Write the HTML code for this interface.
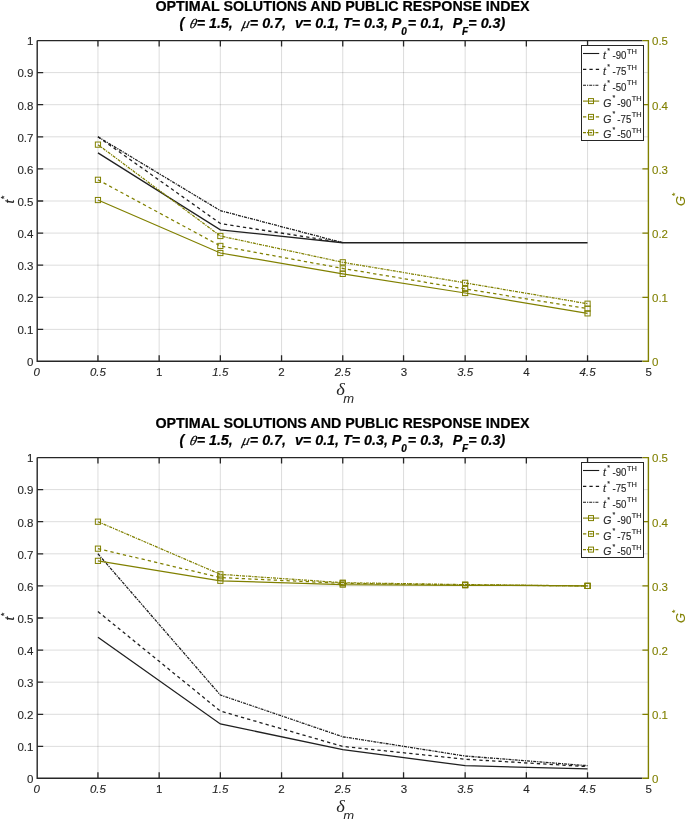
<!DOCTYPE html>
<html><head><meta charset="utf-8"><style>
html,body{margin:0;padding:0;background:#fff;overflow:hidden;width:685px;height:819px;}
svg{display:block;will-change:transform;font-family:"Liberation Sans",sans-serif;}
</style></head><body>
<svg width="685" height="819" viewBox="0 0 685 819">
<rect width="685" height="819" fill="#fff"/>
<path d="M97.95 40.60V361.30 M159.15 40.60V361.30 M220.35 40.60V361.30 M281.55 40.60V361.30 M342.75 40.60V361.30 M403.55 40.60V361.30 M465.15 40.60V361.30 M526.35 40.60V361.30 M587.55 40.60V361.30" stroke="#262626" stroke-opacity="0.155" stroke-width="1.0" fill="none"/>
<path d="M37.20 329.40H648.40 M37.20 297.30H648.40 M37.20 265.20H648.40 M37.20 233.10H648.40 M37.20 201.00H648.40 M37.20 168.90H648.40 M37.20 136.80H648.40 M37.20 104.70H648.40 M37.20 72.60H648.40" stroke="#262626" stroke-opacity="0.155" stroke-width="1.0" fill="none"/>
<path d="M97.95 361.30v-6.0 M97.95 40.60v6.0 M159.15 361.30v-6.0 M159.15 40.60v6.0 M220.35 361.30v-6.0 M220.35 40.60v6.0 M281.55 361.30v-6.0 M281.55 40.60v6.0 M342.75 361.30v-6.0 M342.75 40.60v6.0 M403.55 361.30v-6.0 M403.55 40.60v6.0 M465.15 361.30v-6.0 M465.15 40.60v6.0 M526.35 361.30v-6.0 M526.35 40.60v6.0 M587.55 361.30v-6.0 M587.55 40.60v6.0 M37.20 329.40h6.0 M37.20 297.30h6.0 M37.20 265.20h6.0 M37.20 233.10h6.0 M37.20 201.00h6.0 M37.20 168.90h6.0 M37.20 136.80h6.0 M37.20 104.70h6.0 M37.20 72.60h6.0" stroke="#262626" stroke-width="1.3" fill="none"/>
<path d="M648.40 297.30h-6.0 M648.40 233.10h-6.0 M648.40 168.90h-6.0 M648.40 104.70h-6.0" stroke="#808000" stroke-width="1.3" fill="none"/>
<polyline points="97.95,152.85 220.35,229.89 342.75,242.73 465.15,242.73 587.55,242.73" stroke="#202020" stroke-width="1.3" fill="none"/>
<polyline points="97.95,136.80 220.35,223.47 342.75,242.73" stroke="#202020" stroke-width="1.3" fill="none" stroke-dasharray="3.3 3.1"/>
<polyline points="97.95,136.80 220.35,210.63 342.75,242.73" stroke="#202020" stroke-width="1.3" fill="none" stroke-dasharray="3 1 1.2 1"/>
<polyline points="97.95,200.04 220.35,253.00 342.75,273.87 465.15,293.00 587.55,313.35" stroke="#808000" stroke-width="1.25" fill="none"/>
<rect x="95.35" y="197.44" width="5.2" height="5.2" stroke="#808000" stroke-width="1" fill="none"/>
<rect x="217.75" y="250.40" width="5.2" height="5.2" stroke="#808000" stroke-width="1" fill="none"/>
<rect x="340.15" y="271.27" width="5.2" height="5.2" stroke="#808000" stroke-width="1" fill="none"/>
<rect x="462.55" y="290.40" width="5.2" height="5.2" stroke="#808000" stroke-width="1" fill="none"/>
<rect x="584.95" y="310.75" width="5.2" height="5.2" stroke="#808000" stroke-width="1" fill="none"/>
<polyline points="97.95,179.81 220.35,245.94 342.75,268.41 465.15,288.95 587.55,308.66" stroke="#808000" stroke-width="1.25" fill="none" stroke-dasharray="3.3 3.1"/>
<rect x="95.35" y="177.21" width="5.2" height="5.2" stroke="#808000" stroke-width="1" fill="none"/>
<rect x="217.75" y="243.34" width="5.2" height="5.2" stroke="#808000" stroke-width="1" fill="none"/>
<rect x="340.15" y="265.81" width="5.2" height="5.2" stroke="#808000" stroke-width="1" fill="none"/>
<rect x="462.55" y="286.35" width="5.2" height="5.2" stroke="#808000" stroke-width="1" fill="none"/>
<rect x="584.95" y="306.06" width="5.2" height="5.2" stroke="#808000" stroke-width="1" fill="none"/>
<polyline points="97.95,144.63 220.35,235.99 342.75,262.31 465.15,282.86 587.55,303.72" stroke="#808000" stroke-width="1.25" fill="none" stroke-dasharray="3 1 1.2 1"/>
<rect x="95.35" y="142.03" width="5.2" height="5.2" stroke="#808000" stroke-width="1" fill="none"/>
<rect x="217.75" y="233.39" width="5.2" height="5.2" stroke="#808000" stroke-width="1" fill="none"/>
<rect x="340.15" y="259.71" width="5.2" height="5.2" stroke="#808000" stroke-width="1" fill="none"/>
<rect x="462.55" y="280.25" width="5.2" height="5.2" stroke="#808000" stroke-width="1" fill="none"/>
<rect x="584.95" y="301.12" width="5.2" height="5.2" stroke="#808000" stroke-width="1" fill="none"/>
<path d="M37.20 40.60V361.30H642.40" stroke="#262626" stroke-width="1.4" fill="none"/>
<path d="M37.20 40.60H642.40" stroke="#262626" stroke-width="1.4" fill="none"/>
<path d="M642.40 40.60H648.40V361.30H642.40" stroke="#808000" stroke-width="1.4" fill="none"/>
<g font-size="11.5" fill="#262626" stroke="#262626" stroke-width="0.12"><text x="36.75" y="375.70" text-anchor="middle" font-style="italic">0</text><text x="97.95" y="375.70" text-anchor="middle" font-style="italic">0.5</text><text x="159.15" y="375.70" text-anchor="middle">1</text><text x="220.35" y="375.70" text-anchor="middle" font-style="italic">1.5</text><text x="281.55" y="375.70" text-anchor="middle">2</text><text x="342.75" y="375.70" text-anchor="middle" font-style="italic">2.5</text><text x="403.95" y="375.70" text-anchor="middle">3</text><text x="465.15" y="375.70" text-anchor="middle" font-style="italic">3.5</text><text x="526.35" y="375.70" text-anchor="middle">4</text><text x="587.55" y="375.70" text-anchor="middle" font-style="italic">4.5</text><text x="648.75" y="375.70" text-anchor="middle">5</text><text x="33.4" y="366.30" text-anchor="end">0</text><text x="33.4" y="334.20" text-anchor="end">0.1</text><text x="33.4" y="302.10" text-anchor="end">0.2</text><text x="33.4" y="270.00" text-anchor="end">0.3</text><text x="33.4" y="237.90" text-anchor="end">0.4</text><text x="33.4" y="205.80" text-anchor="end">0.5</text><text x="33.4" y="173.70" text-anchor="end">0.6</text><text x="33.4" y="141.60" text-anchor="end">0.7</text><text x="33.4" y="109.50" text-anchor="end">0.8</text><text x="33.4" y="77.40" text-anchor="end">0.9</text><text x="33.4" y="45.30" text-anchor="end">1</text></g>
<g font-size="11.5" fill="#808000" stroke="#808000" stroke-width="0.1"><text x="652" y="366.30">0</text><text x="652" y="302.10">0.1</text><text x="652" y="237.90">0.2</text><text x="652" y="173.70">0.3</text><text x="652" y="109.50">0.4</text><text x="652" y="45.30">0.5</text></g>
<g transform="translate(13.8 203.60) rotate(-90)" fill="#262626" stroke="#262626" stroke-width="0.2"><text x="0" y="0" font-style="italic" font-size="13.4">t</text><text x="4.56" y="-6.95" font-size="8.5">*</text></g>
<g transform="translate(684.8 205.90) rotate(-90)" fill="#808000" stroke="#808000" stroke-width="0.1"><text x="0" y="0" font-style="italic" font-size="12.8">G</text><text x="10.0" y="-6.95" font-size="8.5">*</text></g>
<text transform="translate(336.27 394.90) scale(1.15 1)" font-family="Liberation Serif" font-style="italic" font-size="16" fill="#262626">δ</text>
<text x="343.18" y="402.50" font-style="italic" font-size="13" fill="#262626">m</text>
<text x="342.5" y="10.50" text-anchor="middle" font-size="14.3" font-weight="bold" fill="#000" stroke="#000" stroke-width="0.2">OPTIMAL SOLUTIONS AND PUBLIC RESPONSE INDEX</text>
<g fill="#000" stroke="#000" stroke-width="0.2"><text x="179.39" y="28.00" font-family="Liberation Sans" font-weight="bold" font-style="italic" font-size="14.3"  xml:space="preserve">(</text><text transform="translate(188.91 28.00) skewX(-13) scale(1.05 0.97)" font-family="Liberation Serif" font-style="italic" font-size="13.5">θ</text><text x="196.64" y="28.00" font-family="Liberation Sans" font-weight="bold" font-style="italic" font-size="14.3"  xml:space="preserve">= 1.5,</text><text transform="translate(241.41 28.00) skewX(-13)" font-family="Liberation Serif" font-style="italic" font-size="14.5">μ</text><text x="249.84" y="28.00" font-family="Liberation Sans" font-weight="bold" font-style="italic" font-size="14.3"  xml:space="preserve">= 0.7,</text><text x="294.93" y="28.00" font-family="Liberation Sans" font-weight="bold" font-style="italic" font-size="14.3"  xml:space="preserve">v= 0.1,</text><text x="342.98" y="28.00" font-family="Liberation Sans" font-weight="bold" font-style="italic" font-size="14.3"  xml:space="preserve">T= 0.3,</text><text x="391.84" y="28.00" font-family="Liberation Sans" font-weight="bold" font-style="italic" font-size="14.3"  xml:space="preserve">P</text><text x="401.18" y="35.30" font-family="Liberation Sans" font-weight="bold" font-style="italic" font-size="10.0"  xml:space="preserve">0</text><text x="407.84" y="28.00" font-family="Liberation Sans" font-weight="bold" font-style="italic" font-size="14.3"  xml:space="preserve">= 0.1,</text><text x="452.84" y="28.00" font-family="Liberation Sans" font-weight="bold" font-style="italic" font-size="14.3"  xml:space="preserve">P</text><text x="461.92" y="35.30" font-family="Liberation Sans" font-weight="bold" font-style="italic" font-size="10.0"  xml:space="preserve">F</text><text x="468.34" y="28.00" font-family="Liberation Sans" font-weight="bold" font-style="italic" font-size="14.3"  xml:space="preserve">= 0.3)</text></g>
<rect x="581.5" y="45.50" width="62.00" height="95.00" fill="#fff" stroke="#262626" stroke-width="1.0"/>
<path d="M583 53.50H599.2" stroke="#1a1a1a" stroke-width="1.1" fill="none"/>
<g fill="#262626" stroke="#262626" stroke-width="0.15" font-size="10.5"><text x="603.0" y="59.10" font-style="italic">t</text><text x="607.2" y="52.70" font-size="7">*</text><text transform="translate(612.5 59.10) scale(0.92 1)">-90</text><text x="626.9000000000001" y="53.60" font-size="7.4">TH</text></g>
<path d="M583 69.40H599.2" stroke="#1a1a1a" stroke-width="1.1" fill="none" stroke-dasharray="3.3 3.1"/>
<g fill="#262626" stroke="#262626" stroke-width="0.15" font-size="10.5"><text x="603.0" y="75.00" font-style="italic">t</text><text x="607.2" y="68.60" font-size="7">*</text><text transform="translate(612.5 75.00) scale(0.92 1)">-75</text><text x="626.9000000000001" y="69.50" font-size="7.4">TH</text></g>
<path d="M583 85.30H599.2" stroke="#1a1a1a" stroke-width="1.1" fill="none" stroke-dasharray="3 1 1.2 1"/>
<g fill="#262626" stroke="#262626" stroke-width="0.15" font-size="10.5"><text x="603.0" y="90.90" font-style="italic">t</text><text x="607.2" y="84.50" font-size="7">*</text><text transform="translate(612.5 90.90) scale(0.92 1)">-50</text><text x="626.9000000000001" y="85.40" font-size="7.4">TH</text></g>
<path d="M583 101.10H599.2" stroke="#808000" stroke-width="1.1" fill="none"/>
<rect x="588.50" y="98.60" width="5" height="5" stroke="#808000" stroke-width="1" fill="#fff" fill-opacity="0"/>
<g fill="#262626" stroke="#262626" stroke-width="0.15" font-size="10.5"><text x="603.2" y="106.70" font-style="italic">G</text><text x="612.4" y="100.30" font-size="7">*</text><text transform="translate(617.3 106.70) scale(0.92 1)">-90</text><text x="631.7" y="101.20" font-size="7.4">TH</text></g>
<path d="M583 116.90H599.2" stroke="#808000" stroke-width="1.1" fill="none" stroke-dasharray="3.3 3.1"/>
<rect x="588.50" y="114.40" width="5" height="5" stroke="#808000" stroke-width="1" fill="#fff" fill-opacity="0"/>
<g fill="#262626" stroke="#262626" stroke-width="0.15" font-size="10.5"><text x="603.2" y="122.50" font-style="italic">G</text><text x="612.4" y="116.10" font-size="7">*</text><text transform="translate(617.3 122.50) scale(0.92 1)">-75</text><text x="631.7" y="117.00" font-size="7.4">TH</text></g>
<path d="M583 132.60H599.2" stroke="#808000" stroke-width="1.1" fill="none" stroke-dasharray="3 1 1.2 1"/>
<rect x="588.50" y="130.10" width="5" height="5" stroke="#808000" stroke-width="1" fill="#fff" fill-opacity="0"/>
<g fill="#262626" stroke="#262626" stroke-width="0.15" font-size="10.5"><text x="603.2" y="138.20" font-style="italic">G</text><text x="612.4" y="131.80" font-size="7">*</text><text transform="translate(617.3 138.20) scale(0.92 1)">-50</text><text x="631.7" y="132.70" font-size="7.4">TH</text></g>
<path d="M97.95 457.60V778.30 M159.15 457.60V778.30 M220.35 457.60V778.30 M281.55 457.60V778.30 M342.75 457.60V778.30 M403.55 457.60V778.30 M465.15 457.60V778.30 M526.35 457.60V778.30 M587.55 457.60V778.30" stroke="#262626" stroke-opacity="0.155" stroke-width="1.0" fill="none"/>
<path d="M37.20 746.40H648.40 M37.20 714.30H648.40 M37.20 682.20H648.40 M37.20 650.10H648.40 M37.20 618.00H648.40 M37.20 585.90H648.40 M37.20 553.80H648.40 M37.20 521.70H648.40 M37.20 489.60H648.40" stroke="#262626" stroke-opacity="0.155" stroke-width="1.0" fill="none"/>
<path d="M97.95 778.30v-6.0 M97.95 457.60v6.0 M159.15 778.30v-6.0 M159.15 457.60v6.0 M220.35 778.30v-6.0 M220.35 457.60v6.0 M281.55 778.30v-6.0 M281.55 457.60v6.0 M342.75 778.30v-6.0 M342.75 457.60v6.0 M403.55 778.30v-6.0 M403.55 457.60v6.0 M465.15 778.30v-6.0 M465.15 457.60v6.0 M526.35 778.30v-6.0 M526.35 457.60v6.0 M587.55 778.30v-6.0 M587.55 457.60v6.0 M37.20 746.40h6.0 M37.20 714.30h6.0 M37.20 682.20h6.0 M37.20 650.10h6.0 M37.20 618.00h6.0 M37.20 585.90h6.0 M37.20 553.80h6.0 M37.20 521.70h6.0 M37.20 489.60h6.0" stroke="#262626" stroke-width="1.3" fill="none"/>
<path d="M648.40 714.30h-6.0 M648.40 650.10h-6.0 M648.40 585.90h-6.0 M648.40 521.70h-6.0" stroke="#808000" stroke-width="1.3" fill="none"/>
<polyline points="97.95,637.26 220.35,723.93 342.75,749.61 465.15,765.66 587.55,768.87" stroke="#202020" stroke-width="1.3" fill="none"/>
<polyline points="97.95,611.58 220.35,711.09 342.75,746.40 465.15,759.24 587.55,766.62" stroke="#202020" stroke-width="1.3" fill="none" stroke-dasharray="3.3 3.1"/>
<polyline points="97.95,553.80 220.35,695.04 342.75,736.77 465.15,756.03 587.55,765.66" stroke="#202020" stroke-width="1.3" fill="none" stroke-dasharray="3 1 1.2 1"/>
<polyline points="97.95,560.86 220.35,580.76 342.75,584.62 465.15,585.26 587.55,585.90" stroke="#808000" stroke-width="1.25" fill="none"/>
<rect x="95.35" y="558.26" width="5.2" height="5.2" stroke="#808000" stroke-width="1" fill="none"/>
<rect x="217.75" y="578.16" width="5.2" height="5.2" stroke="#808000" stroke-width="1" fill="none"/>
<rect x="340.15" y="582.02" width="5.2" height="5.2" stroke="#808000" stroke-width="1" fill="none"/>
<rect x="462.55" y="582.66" width="5.2" height="5.2" stroke="#808000" stroke-width="1" fill="none"/>
<rect x="584.95" y="583.30" width="5.2" height="5.2" stroke="#808000" stroke-width="1" fill="none"/>
<polyline points="97.95,548.66 220.35,577.55 342.75,583.33 465.15,584.94 587.55,585.90" stroke="#808000" stroke-width="1.25" fill="none" stroke-dasharray="3.3 3.1"/>
<rect x="95.35" y="546.06" width="5.2" height="5.2" stroke="#808000" stroke-width="1" fill="none"/>
<rect x="217.75" y="574.95" width="5.2" height="5.2" stroke="#808000" stroke-width="1" fill="none"/>
<rect x="340.15" y="580.73" width="5.2" height="5.2" stroke="#808000" stroke-width="1" fill="none"/>
<rect x="462.55" y="582.34" width="5.2" height="5.2" stroke="#808000" stroke-width="1" fill="none"/>
<rect x="584.95" y="583.30" width="5.2" height="5.2" stroke="#808000" stroke-width="1" fill="none"/>
<polyline points="97.95,521.70 220.35,574.34 342.75,582.69 465.15,584.62 587.55,585.90" stroke="#808000" stroke-width="1.25" fill="none" stroke-dasharray="3 1 1.2 1"/>
<rect x="95.35" y="519.10" width="5.2" height="5.2" stroke="#808000" stroke-width="1" fill="none"/>
<rect x="217.75" y="571.74" width="5.2" height="5.2" stroke="#808000" stroke-width="1" fill="none"/>
<rect x="340.15" y="580.09" width="5.2" height="5.2" stroke="#808000" stroke-width="1" fill="none"/>
<rect x="462.55" y="582.02" width="5.2" height="5.2" stroke="#808000" stroke-width="1" fill="none"/>
<rect x="584.95" y="583.30" width="5.2" height="5.2" stroke="#808000" stroke-width="1" fill="none"/>
<path d="M37.20 457.60V778.30H642.40" stroke="#262626" stroke-width="1.4" fill="none"/>
<path d="M37.20 457.60H642.40" stroke="#262626" stroke-width="1.4" fill="none"/>
<path d="M642.40 457.60H648.40V778.30H642.40" stroke="#808000" stroke-width="1.4" fill="none"/>
<g font-size="11.5" fill="#262626" stroke="#262626" stroke-width="0.12"><text x="36.75" y="792.70" text-anchor="middle" font-style="italic">0</text><text x="97.95" y="792.70" text-anchor="middle" font-style="italic">0.5</text><text x="159.15" y="792.70" text-anchor="middle">1</text><text x="220.35" y="792.70" text-anchor="middle" font-style="italic">1.5</text><text x="281.55" y="792.70" text-anchor="middle">2</text><text x="342.75" y="792.70" text-anchor="middle" font-style="italic">2.5</text><text x="403.95" y="792.70" text-anchor="middle">3</text><text x="465.15" y="792.70" text-anchor="middle" font-style="italic">3.5</text><text x="526.35" y="792.70" text-anchor="middle">4</text><text x="587.55" y="792.70" text-anchor="middle" font-style="italic">4.5</text><text x="648.75" y="792.70" text-anchor="middle">5</text><text x="33.4" y="783.30" text-anchor="end">0</text><text x="33.4" y="751.20" text-anchor="end">0.1</text><text x="33.4" y="719.10" text-anchor="end">0.2</text><text x="33.4" y="687.00" text-anchor="end">0.3</text><text x="33.4" y="654.90" text-anchor="end">0.4</text><text x="33.4" y="622.80" text-anchor="end">0.5</text><text x="33.4" y="590.70" text-anchor="end">0.6</text><text x="33.4" y="558.60" text-anchor="end">0.7</text><text x="33.4" y="526.50" text-anchor="end">0.8</text><text x="33.4" y="494.40" text-anchor="end">0.9</text><text x="33.4" y="462.30" text-anchor="end">1</text></g>
<g font-size="11.5" fill="#808000" stroke="#808000" stroke-width="0.1"><text x="652" y="783.30">0</text><text x="652" y="719.10">0.1</text><text x="652" y="654.90">0.2</text><text x="652" y="590.70">0.3</text><text x="652" y="526.50">0.4</text><text x="652" y="462.30">0.5</text></g>
<g transform="translate(13.8 620.60) rotate(-90)" fill="#262626" stroke="#262626" stroke-width="0.2"><text x="0" y="0" font-style="italic" font-size="13.4">t</text><text x="4.56" y="-6.95" font-size="8.5">*</text></g>
<g transform="translate(684.8 622.90) rotate(-90)" fill="#808000" stroke="#808000" stroke-width="0.1"><text x="0" y="0" font-style="italic" font-size="12.8">G</text><text x="10.0" y="-6.95" font-size="8.5">*</text></g>
<text transform="translate(336.27 811.90) scale(1.15 1)" font-family="Liberation Serif" font-style="italic" font-size="16" fill="#262626">δ</text>
<text x="343.18" y="819.50" font-style="italic" font-size="13" fill="#262626">m</text>
<text x="342.5" y="427.50" text-anchor="middle" font-size="14.3" font-weight="bold" fill="#000" stroke="#000" stroke-width="0.2">OPTIMAL SOLUTIONS AND PUBLIC RESPONSE INDEX</text>
<g fill="#000" stroke="#000" stroke-width="0.2"><text x="179.39" y="445.00" font-family="Liberation Sans" font-weight="bold" font-style="italic" font-size="14.3"  xml:space="preserve">(</text><text transform="translate(188.91 445.00) skewX(-13) scale(1.05 0.97)" font-family="Liberation Serif" font-style="italic" font-size="13.5">θ</text><text x="196.64" y="445.00" font-family="Liberation Sans" font-weight="bold" font-style="italic" font-size="14.3"  xml:space="preserve">= 1.5,</text><text transform="translate(241.41 445.00) skewX(-13)" font-family="Liberation Serif" font-style="italic" font-size="14.5">μ</text><text x="249.84" y="445.00" font-family="Liberation Sans" font-weight="bold" font-style="italic" font-size="14.3"  xml:space="preserve">= 0.7,</text><text x="294.93" y="445.00" font-family="Liberation Sans" font-weight="bold" font-style="italic" font-size="14.3"  xml:space="preserve">v= 0.1,</text><text x="342.98" y="445.00" font-family="Liberation Sans" font-weight="bold" font-style="italic" font-size="14.3"  xml:space="preserve">T= 0.3,</text><text x="391.84" y="445.00" font-family="Liberation Sans" font-weight="bold" font-style="italic" font-size="14.3"  xml:space="preserve">P</text><text x="401.18" y="452.30" font-family="Liberation Sans" font-weight="bold" font-style="italic" font-size="10.0"  xml:space="preserve">0</text><text x="407.84" y="445.00" font-family="Liberation Sans" font-weight="bold" font-style="italic" font-size="14.3"  xml:space="preserve">= 0.3,</text><text x="452.84" y="445.00" font-family="Liberation Sans" font-weight="bold" font-style="italic" font-size="14.3"  xml:space="preserve">P</text><text x="461.92" y="452.30" font-family="Liberation Sans" font-weight="bold" font-style="italic" font-size="10.0"  xml:space="preserve">F</text><text x="468.34" y="445.00" font-family="Liberation Sans" font-weight="bold" font-style="italic" font-size="14.3"  xml:space="preserve">= 0.3)</text></g>
<rect x="581.5" y="462.50" width="62.00" height="95.00" fill="#fff" stroke="#262626" stroke-width="1.0"/>
<path d="M583 470.50H599.2" stroke="#1a1a1a" stroke-width="1.1" fill="none"/>
<g fill="#262626" stroke="#262626" stroke-width="0.15" font-size="10.5"><text x="603.0" y="476.10" font-style="italic">t</text><text x="607.2" y="469.70" font-size="7">*</text><text transform="translate(612.5 476.10) scale(0.92 1)">-90</text><text x="626.9000000000001" y="470.60" font-size="7.4">TH</text></g>
<path d="M583 486.40H599.2" stroke="#1a1a1a" stroke-width="1.1" fill="none" stroke-dasharray="3.3 3.1"/>
<g fill="#262626" stroke="#262626" stroke-width="0.15" font-size="10.5"><text x="603.0" y="492.00" font-style="italic">t</text><text x="607.2" y="485.60" font-size="7">*</text><text transform="translate(612.5 492.00) scale(0.92 1)">-75</text><text x="626.9000000000001" y="486.50" font-size="7.4">TH</text></g>
<path d="M583 502.30H599.2" stroke="#1a1a1a" stroke-width="1.1" fill="none" stroke-dasharray="3 1 1.2 1"/>
<g fill="#262626" stroke="#262626" stroke-width="0.15" font-size="10.5"><text x="603.0" y="507.90" font-style="italic">t</text><text x="607.2" y="501.50" font-size="7">*</text><text transform="translate(612.5 507.90) scale(0.92 1)">-50</text><text x="626.9000000000001" y="502.40" font-size="7.4">TH</text></g>
<path d="M583 518.10H599.2" stroke="#808000" stroke-width="1.1" fill="none"/>
<rect x="588.50" y="515.60" width="5" height="5" stroke="#808000" stroke-width="1" fill="#fff" fill-opacity="0"/>
<g fill="#262626" stroke="#262626" stroke-width="0.15" font-size="10.5"><text x="603.2" y="523.70" font-style="italic">G</text><text x="612.4" y="517.30" font-size="7">*</text><text transform="translate(617.3 523.70) scale(0.92 1)">-90</text><text x="631.7" y="518.20" font-size="7.4">TH</text></g>
<path d="M583 533.90H599.2" stroke="#808000" stroke-width="1.1" fill="none" stroke-dasharray="3.3 3.1"/>
<rect x="588.50" y="531.40" width="5" height="5" stroke="#808000" stroke-width="1" fill="#fff" fill-opacity="0"/>
<g fill="#262626" stroke="#262626" stroke-width="0.15" font-size="10.5"><text x="603.2" y="539.50" font-style="italic">G</text><text x="612.4" y="533.10" font-size="7">*</text><text transform="translate(617.3 539.50) scale(0.92 1)">-75</text><text x="631.7" y="534.00" font-size="7.4">TH</text></g>
<path d="M583 549.60H599.2" stroke="#808000" stroke-width="1.1" fill="none" stroke-dasharray="3 1 1.2 1"/>
<rect x="588.50" y="547.10" width="5" height="5" stroke="#808000" stroke-width="1" fill="#fff" fill-opacity="0"/>
<g fill="#262626" stroke="#262626" stroke-width="0.15" font-size="10.5"><text x="603.2" y="555.20" font-style="italic">G</text><text x="612.4" y="548.80" font-size="7">*</text><text transform="translate(617.3 555.20) scale(0.92 1)">-50</text><text x="631.7" y="549.70" font-size="7.4">TH</text></g>
</svg>
</body></html>
